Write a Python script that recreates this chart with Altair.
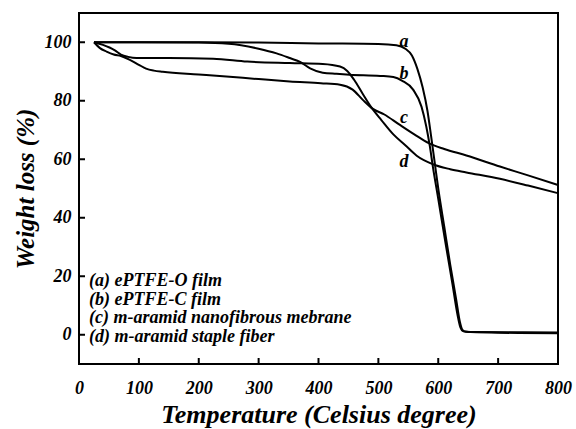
import altair as alt
import pandas as pd

# ---- data ----
series_names = [
    "(a) ePTFE-O film",
    "(b) ePTFE-C film",
    "(c) m-aramid nanofibrous mebrane",
    "(d) m-aramid staple fiber",
]

temp_a = [25, 100, 200, 300, 400, 500, 530, 545, 556, 565, 574, 582, 588, 594, 600, 610, 620, 630, 636, 640, 646, 700, 800]
wt_a = [100, 100, 100, 99.9, 99.6, 99.4, 99.0, 97.8, 95.5, 91, 84.5, 76.5, 68, 59, 50, 37, 24, 12, 4.5, 1.8, 1.0, 0.7, 0.5]

temp_b = [25, 100, 200, 250, 300, 330, 352, 370, 386, 407, 430, 452, 503, 525, 540, 558, 572, 580, 586, 591, 600, 612, 624, 632, 637, 642, 660, 800]
wt_b = [100, 100, 99.9, 99.5, 97.8, 96.2, 94.6, 93.2, 91.1, 89.6, 89.2, 88.9, 88.5, 88.1, 86.8, 83.8, 78, 71.2, 64.4, 57.5, 46.5, 31.5, 17, 7, 2.5, 1.2, 0.9, 0.8]

temp_c = [25, 35, 46, 58, 70, 85, 100, 112, 125, 140, 200, 246, 300, 352, 404, 436, 457, 474, 491, 510, 534, 560, 584, 610, 647, 703, 750, 800]
wt_c = [100, 98, 96.8, 95.8, 95.3, 94.0, 92.3, 91, 90.3, 89.9, 89, 88.3, 87.4, 86.6, 86, 85.5, 83.8, 80.3, 77.2, 75.3, 72, 68.5, 65.5, 63.5, 61.3, 57.5, 54.5, 51.2]

temp_d = [25, 40, 51, 60, 70, 82, 96, 150, 224, 281, 352, 407, 436, 448, 460, 474, 488, 505, 525, 545, 564, 591, 620, 647, 703, 750, 800]
wt_d = [100, 99.1, 98.2, 97.2, 95.8, 95.0, 94.6, 94.6, 94.4, 93.4, 92.9, 92.6, 91.7, 90.2, 87, 82.3, 77.8, 73.4, 68.5, 64.8, 61.2, 58.3, 56.6, 55.5, 53.3, 51, 48.4]

x_ticks = [0, 100, 200, 300, 400, 500, 600, 700, 800]
y_ticks = [0, 20, 40, 60, 80, 100]

curve_tags = ["a", "b", "c", "d"]
tag_temp = [543, 543, 543, 543]
tag_wt = [100.2, 89.3, 74.0, 59.2]

# ---- build tables ----
rows = []
for name, T, W in zip(series_names, [temp_a, temp_b, temp_c, temp_d], [wt_a, wt_b, wt_c, wt_d]):
    for t, w in zip(T, W):
        rows.append({"series": name, "T": t, "W": w})
df = pd.DataFrame(rows)
df_xt = pd.DataFrame({"T": x_ticks})
df_yt = pd.DataFrame({"W": y_ticks})
df_tags = pd.DataFrame({"tag": curve_tags, "T": tag_temp, "W": tag_wt})

PW, PH = 479, 351
FONT = "Liberation Serif"

xscale = alt.Scale(domain=[0, 800], nice=False, zero=False)
yscale = alt.Scale(domain=[-10, 110], nice=False, zero=False)

x_axis = alt.Axis(
    values=x_ticks, format="d", title="Temperature (Celsius degree)",
    ticks=False, tickSize=0, domain=False, grid=False,
    labelFont=FONT, labelFontSize=18, labelFontWeight="bold", labelFontStyle="italic",
    labelColor="black", labelPadding=15, labelFlush=False, labelOverlap=False,
    titleFont=FONT, titleFontSize=26, titleFontWeight="bold", titleFontStyle="italic",
    titleColor="black", titleAlign="center", titleBaseline="alphabetic",
    titleX=PW / 2, titleY=58.5,
)
y_axis = alt.Axis(
    values=y_ticks, format="d", title="Weight loss (%)",
    ticks=False, tickSize=0, domain=False, grid=False,
    labelFont=FONT, labelFontSize=18, labelFontWeight="bold", labelFontStyle="italic",
    labelColor="black", labelPadding=8, labelFlush=False, labelOverlap=False,
    titleFont=FONT, titleFontSize=25, titleFontWeight="bold", titleFontStyle="italic",
    titleColor="black", titleAngle=-90, titleAlign="center", titleBaseline="middle",
    titleX=-54, titleY=PH / 2,
)

X = alt.X("T:Q", scale=xscale, axis=x_axis)
Y = alt.Y("W:Q", scale=yscale, axis=y_axis)

lines = alt.Chart(df).mark_line(strokeWidth=2, interpolate="monotone").encode(
    x=X,
    y=Y,
    color=alt.Color(
        "series:N",
        scale=alt.Scale(domain=series_names, range=["black"] * 4),
        legend=alt.Legend(
            orient="none", legendX=-8, legendY=259, title=None, padding=0, offset=0,
            symbolSize=0, symbolOpacity=0, symbolStrokeWidth=0, symbolType="stroke",
            labelOffset=0, labelLimit=500, rowPadding=0.7,
            labelFont=FONT, labelFontSize=18, labelFontWeight="bold",
            labelFontStyle="italic", labelColor="black",
        ),
    ),
)

x_tick_marks = alt.Chart(df_xt).mark_rule(strokeWidth=2, color="black").encode(
    x=X,
    y=alt.value(PH), y2=alt.value(PH - 6),
)
y_tick_marks = alt.Chart(df_yt).mark_rule(strokeWidth=2, color="black").encode(
    y=Y,
    x=alt.value(0), x2=alt.value(6),
)

tags = alt.Chart(df_tags).mark_text(
    font=FONT, fontSize=18, fontStyle="italic", fontWeight="bold", color="black",
    align="center", baseline="middle",
).encode(
    x=X,
    y=Y,
    text="tag:N",
)

chart = alt.layer(lines, x_tick_marks, y_tick_marks, tags).properties(
    width=PW, height=PH,
    autosize=alt.AutoSizeParams(type="none"),
    padding={"left": 79, "top": 13, "right": 18, "bottom": 65},
    background="white",
).configure_view(stroke="black", strokeWidth=2)

chart.save("out.html", embed_options={"renderer": "svg", "actions": False})
